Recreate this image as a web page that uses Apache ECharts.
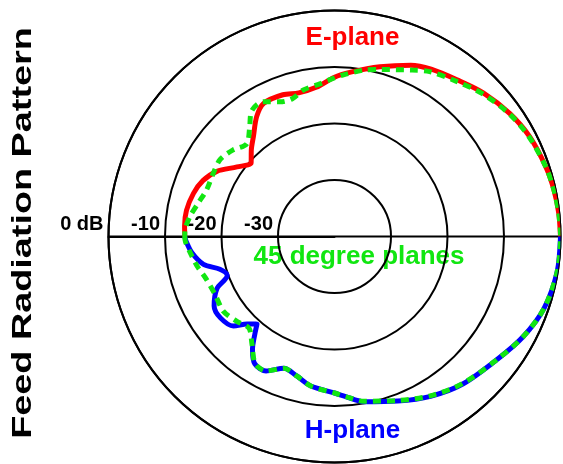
<!DOCTYPE html>
<html>
<head>
<meta charset="utf-8">
<script src="https://cdn.jsdelivr.net/npm/echarts@6/dist/echarts.min.js"></script>
<style>
  html, body { margin: 0; padding: 0; background: #fff; }
  #chart { width: 563px; height: 464px; }
</style>
</head>
<body>
<div id="chart"></div>
<script>
// Ring levels (dB) and their labels
const ringTicks = [-40, -30, -20, -10, 0];
const ringLabels = { '-30': '-30', '-20': '-20', '-10': '-10', '0': '0 dB' };

// E-plane cut: [angle in degrees from boresight, level in dB]
const ePlane = [
  [0, 0], [6, -0.1], [12, -0.3], [18, -0.6], [27, -1.2], [35, -2.1], [44, -3.4],
  [52, -4.8], [60, -5.8], [66, -6.8], [75, -8.9], [84, -10.7], [90, -11.8],
  [97, -13.4], [104, -13.8], [110, -13.3], [118, -13.3], [123, -14.7],
  [129, -17.2], [134, -18.8], [138.5, -20.3], [144.5, -18.8], [151, -16.2],
  [157, -14.7], [163, -13.9], [170, -13.4], [176, -13.4], [180, -13.5]
];

// H-plane cut (drawn on the lower half, negative angles)
const hPlane = [
  [0, 0], [-9, -0.1], [-19, -0.8], [-28, -2.2], [-37, -3.9], [-49, -5.4],
  [-59, -7.0], [-69, -8.8], [-80, -10.3], [-86, -11.6], [-90, -12.3],
  [-99, -13.2], [-105, -14.4], [-111, -15.0], [-117, -13.3], [-122, -13.4],
  [-126, -15.3], [-129.5, -17.9], [-131.5, -19.3], [-135, -18.1],
  [-138.5, -16.1], [-144.5, -15.2], [-150, -15.4], [-156, -17.2],
  [-160, -19.8], [-164, -18.9], [-168, -16.3], [-173.5, -14.6],
  [-178.3, -13.7], [-180, -13.5]
];

// 45 degree planes, both halves, from -180 to 180
const diagPlane = [
  [-180, -13.5], [-178, -13.6], [-173, -14.4], [-168, -15.1], [-161.5, -16.1],
  [-154, -16.5], [-146, -16.3], [-139, -17.1], [-133, -17.8], [-127.5, -16.0],
  [-122, -13.5], [-117, -13.3], [-111, -15.0], [-105, -14.4], [-99, -13.2],
  [-90, -12.3], [-86, -11.6], [-80, -10.4], [-69, -8.9], [-59, -7.1],
  [-49, -5.5], [-37, -3.9], [-28, -2.2], [-19, -0.8], [-9, -0.1],
  [0, 0], [6, -0.1], [12, -0.3], [18, -0.6], [27, -1.3], [35, -2.2],
  [44, -3.6], [52, -5.1], [60, -6.3], [65, -7.5], [75, -9.4], [80, -10.1],
  [86, -11.2], [91, -12.1], [95, -12.8], [102, -13.5], [107, -14.5],
  [112, -14.3], [118, -13.0], [123.5, -13.4], [128, -15.6], [133.5, -17.4],
  [139.5, -16.4], [146, -15.6], [152.5, -15.8], [160, -15.9], [166, -15.2],
  [172, -14.2], [178, -13.5], [180, -13.5]
];

const RED = '#ff0000';
const BLUE = '#0000ff';
const GREEN = '#11e611';
const FONT = '"Liberation Sans", Arial, Helvetica, sans-serif';

// polar series take [radius, angle]
const toPolar = arr => arr.map(p => [p[1], p[0]]);

const chart = echarts.init(document.getElementById('chart'), null, { renderer: 'canvas' });

chart.setOption({
  animation: false,
  backgroundColor: '#ffffff',
  polar: { center: [334.5, 236.5], radius: 226 },
  angleAxis: {
    type: 'value', min: -180, max: 180, interval: 180,
    startAngle: 180, clockwise: false,
    axisLine: { show: true, lineStyle: { color: '#000', width: 2 } },
    axisTick: { show: false },
    axisLabel: { show: false },
    splitLine: { show: true, lineStyle: { color: '#000', width: 2 } }
  },
  radiusAxis: {
    type: 'value', min: ringTicks[0], max: ringTicks[ringTicks.length - 1], interval: 10,
    axisLine: { show: true, lineStyle: { color: '#000', width: 2 } },
    axisTick: { show: false },
    splitLine: { show: true, lineStyle: { color: '#000', width: 2 } },
    axisLabel: {
      show: true,
      formatter: v => ringLabels[String(v)] || '',
      color: '#000', fontFamily: FONT, fontWeight: 'bold', fontSize: 20,
      align: 'right', verticalAlign: 'bottom', margin: -2,
      padding: [0, 5, 0, 0]
    }
  },
  series: [
    {
      name: 'E-plane', type: 'line', coordinateSystem: 'polar',
      data: toPolar(ePlane), smooth: 0.3, symbol: 'none',
      lineStyle: { color: RED, width: 5 }, z: 3
    },
    {
      name: 'H-plane', type: 'line', coordinateSystem: 'polar',
      data: toPolar(hPlane), smooth: 0.3, symbol: 'none',
      lineStyle: { color: BLUE, width: 5 }, z: 3
    },
    {
      name: '45 degree planes', type: 'line', coordinateSystem: 'polar',
      data: toPolar(diagPlane), smooth: 0.3, symbol: 'none',
      lineStyle: { color: GREEN, width: 5, type: [8, 6] }, z: 4
    }
  ],
  graphic: [
    {
      type: 'text', x: 23, y: 233, rotation: Math.PI / 2, scaleX: 1.35,
      style: {
        text: 'Feed Radiation Pattern', fill: '#000', font: 'bold 28px ' + FONT,
        textAlign: 'center', textVerticalAlign: 'middle'
      }
    },
    {
      type: 'text', x: 352.5, y: 38,
      style: {
        text: 'E-plane', fill: RED, font: 'bold 26px ' + FONT,
        textAlign: 'center', textVerticalAlign: 'middle'
      }
    },
    {
      type: 'text', x: 352.5, y: 431,
      style: {
        text: 'H-plane', fill: BLUE, font: 'bold 26px ' + FONT,
        textAlign: 'center', textVerticalAlign: 'middle'
      }
    },
    {
      type: 'text', x: 359, y: 257,
      style: {
        text: '45 degree planes', fill: GREEN, font: 'bold 26px ' + FONT,
        textAlign: 'center', textVerticalAlign: 'middle'
      }
    }
  ]
});
</script>
</body>
</html>
